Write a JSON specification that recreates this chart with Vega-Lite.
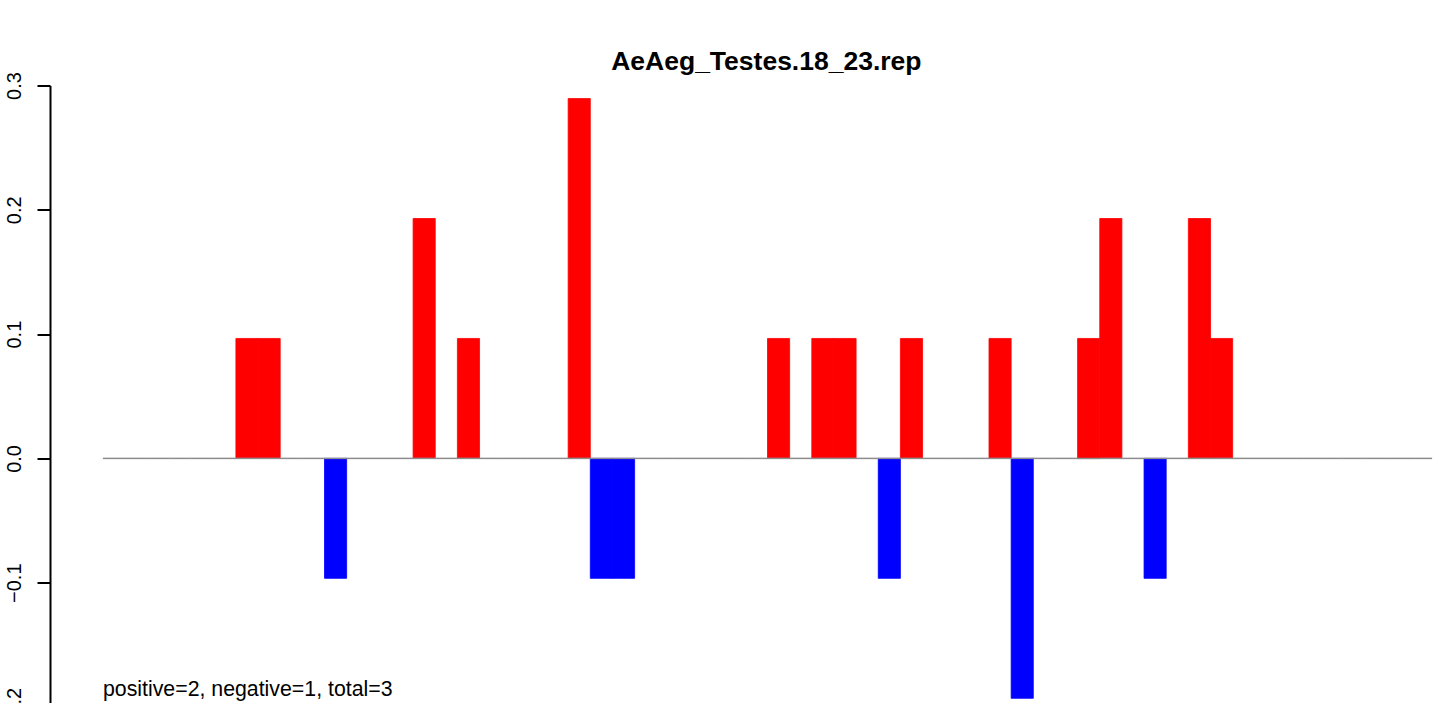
{
  "$schema": "https://vega.github.io/schema/vega-lite/v6.json",
  "autosize": {"type": "none"},
  "width": 1373.3,
  "height": 621.5,
  "padding": {"left": 65.7, "top": 85.5, "right": 0, "bottom": -4},
  "background": "white",
  "config": {"view": {"stroke": null}, "font": "Liberation Sans"},
  "title": {
    "text": "AeAeg_Testes.18_23.rep",
    "font": "Liberation Sans",
    "fontSize": 26.5,
    "fontWeight": "bold",
    "color": "black",
    "anchor": "middle",
    "frame": "group",
    "baseline": "alphabetic",
    "offset": 15.5,
    "dy": 40,
    "dx": 14
  },
  "data": {
    "values": [
      {"i": 0, "v": 0}, {"i": 1, "v": 0}, {"i": 2, "v": 0}, {"i": 3, "v": 0}, {"i": 4, "v": 0},
      {"i": 5, "v": 0}, {"i": 6, "v": 0.0965}, {"i": 7, "v": 0.0965}, {"i": 8, "v": 0}, {"i": 9, "v": 0},
      {"i": 10, "v": -0.0965}, {"i": 11, "v": 0}, {"i": 12, "v": 0}, {"i": 13, "v": 0}, {"i": 14, "v": 0.193},
      {"i": 15, "v": 0}, {"i": 16, "v": 0.0965}, {"i": 17, "v": 0}, {"i": 18, "v": 0}, {"i": 19, "v": 0},
      {"i": 20, "v": 0}, {"i": 21, "v": 0.2895}, {"i": 22, "v": -0.0965}, {"i": 23, "v": -0.0965}, {"i": 24, "v": 0},
      {"i": 25, "v": 0}, {"i": 26, "v": 0}, {"i": 27, "v": 0}, {"i": 28, "v": 0}, {"i": 29, "v": 0},
      {"i": 30, "v": 0.0965}, {"i": 31, "v": 0}, {"i": 32, "v": 0.0965}, {"i": 33, "v": 0.0965}, {"i": 34, "v": 0},
      {"i": 35, "v": -0.0965}, {"i": 36, "v": 0.0965}, {"i": 37, "v": 0}, {"i": 38, "v": 0}, {"i": 39, "v": 0},
      {"i": 40, "v": 0.0965}, {"i": 41, "v": -0.193}, {"i": 42, "v": 0}, {"i": 43, "v": 0}, {"i": 44, "v": 0.0965},
      {"i": 45, "v": 0.193}, {"i": 46, "v": 0}, {"i": 47, "v": -0.0965}, {"i": 48, "v": 0}, {"i": 49, "v": 0.193},
      {"i": 50, "v": 0.0965}, {"i": 51, "v": 0}, {"i": 52, "v": 0}, {"i": 53, "v": 0}, {"i": 54, "v": 0},
      {"i": 55, "v": 0}, {"i": 56, "v": 0}, {"i": 57, "v": 0}, {"i": 58, "v": 0}, {"i": 59, "v": 0}
    ]
  },
  "encoding": {
    "x": {
      "field": "i",
      "type": "ordinal",
      "axis": null,
      "scale": {"type": "band", "paddingInner": 0, "paddingOuter": 1, "align": 0.842}
    }
  },
  "layer": [
    {
      "mark": {"type": "bar", "strokeWidth": 0.8},
      "encoding": {
        "y": {
          "field": "v",
          "type": "quantitative",
          "scale": {"domain": [-0.2, 0.3], "nice": false, "zero": false},
          "axis": {
            "title": null,
            "values": [-0.2, -0.1, 0, 0.1, 0.2, 0.3],
            "format": ".1f",
            "grid": false,
            "offset": 15.7,
            "domainColor": "black",
            "domainWidth": 2,
            "tickColor": "black",
            "tickWidth": 2,
            "tickSize": 13,
            "labelAngle": -90,
            "labelAlign": "center",
            "labelBaseline": "alphabetic",
            "labelPadding": 16,
            "labelFont": "Liberation Sans",
            "labelFontSize": 20,
            "labelColor": "black",
            "labelOverlap": false,
            "labelFlush": false,
            "labelBound": false
          }
        },
        "color": {
          "condition": {"test": "datum.v < 0", "value": "#0000ff"},
          "value": "#ff0000"
        },
        "stroke": {
          "condition": [
            {"test": "datum.v < 0", "value": "#0000ff"},
            {"test": "datum.v > 0", "value": "#ff0000"}
          ],
          "value": "transparent"
        }
      }
    },
    {
      "mark": {"type": "tick", "orient": "horizontal", "color": "#8c8c8c", "thickness": 1.5, "size": 22.4, "opacity": 1},
      "encoding": {
        "y": {"datum": 0, "type": "quantitative"}
      }
    },
    {
      "data": {"values": [{"label": "positive=2, negative=1, total=3"}]},
      "mark": {"type": "text", "align": "left", "baseline": "alphabetic", "font": "Liberation Sans", "fontSize": 21.3, "color": "black"},
      "encoding": {
        "x": {"datum": 0, "type": "ordinal", "bandPosition": 0},
        "y": {"datum": -0.1912, "type": "quantitative"},
        "text": {"field": "label", "type": "nominal"}
      }
    }
  ]
}
